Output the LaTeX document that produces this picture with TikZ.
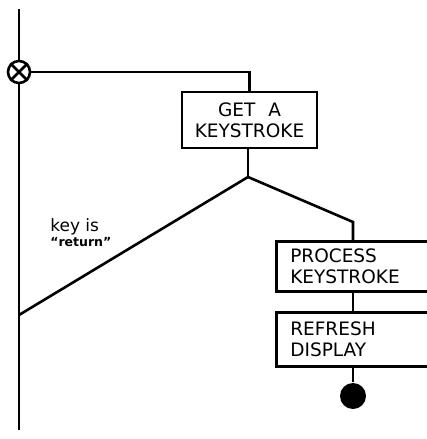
\documentclass[tikz,border=0pt]{standalone}
\usepackage{fontspec}
\setmainfont{DejaVu Sans}
\begin{document}
\begin{tikzpicture}[x=1pt,y=-1pt,
  line width=2.6pt,
  box/.style={draw,rectangle,line width=2.6pt,inner ysep=0pt,
    font=\fontsize{18.5}{21}\selectfont},
  leftbox/.style={box,anchor=north west,align=left,text width=138pt,
    inner xsep=14pt,minimum height=52pt},
  lbl/.style={font=\fontsize{17}{15}\selectfont,align=left,inner sep=0pt}]
\useasboundingbox (0,0) rectangle (426,439);
% nodes
\node[box,align=center,minimum width=135pt,minimum height=56pt] (get) at (249.5,120) {GET\hspace{0.7em}A\\KEYSTROKE};
\node[leftbox,minimum height=50pt] (proc) at (275,240) {PROCESS\\KEYSTROKE};
\node[leftbox,minimum height=54pt] (refr) at (275,311) {REFRESH\\DISPLAY};
\node[draw,circle,minimum size=22pt,inner sep=0pt] (merge) at (19,72) {};
\node[fill,circle,minimum size=26pt,inner sep=0pt] (end) at (353,396) {};
\coordinate (top) at (19,9);
\coordinate (bot) at (19,430);
\coordinate (join) at (19,315);
\coordinate (branch) at (248,177);
\coordinate (c1) at (353,222);
\node[lbl,anchor=north west] (lab) at (49,217) {key is\\{\fontsize{12.5}{12.5}\selectfont\bfseries “return”}};
% connectors
\draw (merge.north west) -- (merge.south east);
\draw (merge.north east) -- (merge.south west);
\draw (top) -- (merge.north);
\draw (merge.south) -- (bot);
\draw (merge.east) -| (get.north);
\draw (get.south -| branch) -- (branch);
\draw (branch) -- (join);
\draw (branch) -- (c1) -- (c1 |- proc.north);
\draw (c1 |- proc.south) -- (c1 |- refr.north);
\draw (c1 |- refr.south) -- (end.north);
\end{tikzpicture}
\end{document}
